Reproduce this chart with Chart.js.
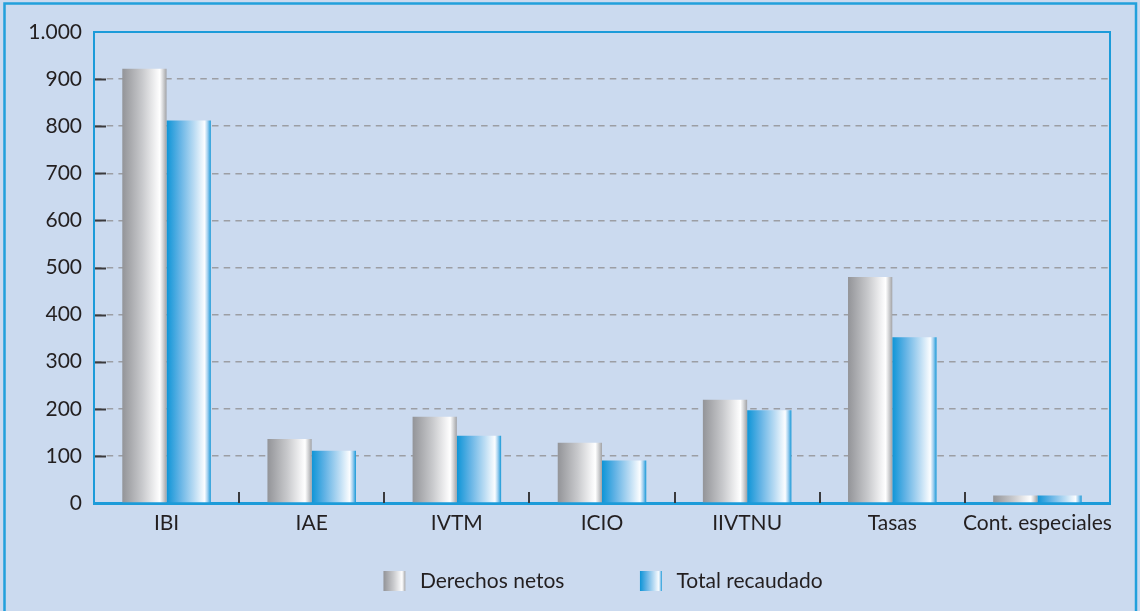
<!DOCTYPE html>
<html><head><meta charset="utf-8">
<script src="https://cdn.jsdelivr.net/npm/chart.js@4.4.1/dist/chart.umd.min.js"></script>
<style>html,body{margin:0;padding:0;background:#cbdaef;overflow:hidden}canvas{display:block}</style>
</head><body>
<canvas id="c" width="1140" height="611" style="width:1140px;height:611px"></canvas>
<script>
const categories = ['IBI', 'IAE', 'IVTM', 'ICIO', 'IIVTNU', 'Tasas', 'Cont. especiales'];
const derechosNetos = [922, 136, 183, 128, 219, 480, 16];
const totalRecaudado = [812, 111, 143, 90, 197, 352, 16];
const seriesNames = ['Derechos netos', 'Total recaudado'];
const yTickValues = [0, 100, 200, 300, 400, 500, 600, 700, 800, 900, 1000];
const yTickLabels = ['0', '100', '200', '300', '400', '500', '600', '700', '800', '900', '1.000'];

const BG = '#cbdaef';
const FRAME = '#22a0dc';
const AXIS = '#1c9bd9';
const TXT = '#231f20';
const FONT = 'Lato, "DejaVu Sans", sans-serif';

function grayStops(g) {
  g.addColorStop(0, '#939498');
  g.addColorStop(0.45, '#c8c9cc');
  g.addColorStop(0.78, '#f6f6f7');
  g.addColorStop(0.85, '#ffffff');
  g.addColorStop(0.92, '#d4d5d7');
  g.addColorStop(1, '#a2a3a6');
  return g;
}
function blueStops(g) {
  g.addColorStop(0, '#0e95d7');
  g.addColorStop(0.3, '#63b3e5');
  g.addColorStop(0.62, '#b9dbf3');
  g.addColorStop(0.86, '#fbfdff');
  g.addColorStop(0.93, '#9ccdee');
  g.addColorStop(1, '#1799d8');
  return g;
}
const stopFns = [grayStops, blueStops];

const SW_W = 98, SW_X = 72, SW_BOX = 22, SW_H = 20;
function swatch(i) {
  const cv = document.createElement('canvas');
  cv.width = SW_W; cv.height = SW_H;
  const c = cv.getContext('2d');
  c.fillStyle = stopFns[i](c.createLinearGradient(SW_X, 0, SW_X + SW_BOX, 0));
  c.fillRect(SW_X, 0, SW_BOX, SW_H);
  return cv;
}
const swatches = [swatch(0), swatch(1)];

const decor = {
  id: 'decor',
  beforeDraw(chart) {
    const c = chart.ctx;
    c.save();
    c.fillStyle = BG;
    c.fillRect(0, 0, chart.width, chart.height);
    c.strokeStyle = FRAME;
    c.lineWidth = 2.5;
    c.strokeRect(4.5, 3.5, 1131.5, 640);
    c.restore();
  },
  beforeDatasetsDraw(chart) {
    const c = chart.ctx;
    chart.data.datasets.forEach((ds, di) => {
      const meta = chart.getDatasetMeta(di);
      meta.data.forEach(el => {
        const x0 = el.x - el.width / 2, x1 = el.x + el.width / 2;
        const g = stopFns[di](c.createLinearGradient(x0, 0, x1, 0));
        el.options = Object.assign({}, el.options, { backgroundColor: g });
      });
    });
  },
  afterDraw(chart) {
    const c = chart.ctx, a = chart.chartArea;
    const ys = chart.scales.y, xs = chart.scales.x;
    c.save();
    c.strokeStyle = AXIS;
    c.lineWidth = 2;
    c.beginPath();
    c.moveTo(a.left, a.top); c.lineTo(a.right, a.top); c.lineTo(a.right, a.bottom);
    c.stroke();
    c.strokeStyle = '#3a3a3d';
    c.lineWidth = 2;
    ys.ticks.forEach(t => {
      if (t.value <= 0 || t.value >= 1000) return;
      const y = Math.round(ys.getPixelForValue(t.value)) + 0.5;
      c.beginPath(); c.moveTo(a.left + 1, y); c.lineTo(a.left + 12, y); c.stroke();
    });
    for (let i = 1; i < categories.length; i++) {
      const x = Math.round((xs.getPixelForValue(i - 1) + xs.getPixelForValue(i)) / 2);
      c.beginPath(); c.moveTo(x, a.bottom - 11); c.lineTo(x, a.bottom); c.stroke();
    }
    c.restore();
  }
};

new Chart(document.getElementById('c'), {
  type: 'bar',
  data: {
    labels: categories,
    datasets: [
      { label: seriesNames[0], data: derechosNetos, backgroundColor: '#c8c9cc', borderWidth: 0 },
      { label: seriesNames[1], data: totalRecaudado, backgroundColor: '#63b3e5', borderWidth: 0 }
    ]
  },
  options: {
    responsive: false,
    animation: false,
    devicePixelRatio: 1,
    datasets: { bar: { categoryPercentage: 0.61, barPercentage: 1.0 } },
    layout: { padding: { left: 24, right: 30, top: 32, bottom: 9.5 } },
    scales: {
      x: {
        afterFit(s) { s.height = 64; },
        grid: { display: false, drawTicks: false },
        border: { display: true, color: AXIS, width: 3 },
        ticks: { color: TXT, font: { family: FONT, size: 21 }, padding: 8, maxRotation: 0, autoSkip: false }
      },
      y: {
        min: 0, max: 1000,
        afterFit(s) { s.width = 70; },
        afterBuildTicks(s) { s.ticks = yTickValues.map(v => ({ value: v })); },
        grid: { color: '#9c9ea4', lineWidth: 1.5, drawTicks: false },
        border: { display: true, color: AXIS, width: 2, dash: [6.5, 5.2] },
        ticks: {
          color: TXT, font: { family: FONT, size: 21 }, padding: 12,
          callback(v) { const i = yTickValues.indexOf(v); return i >= 0 ? yTickLabels[i] : ''; }
        }
      }
    },
    plugins: {
      tooltip: { enabled: false },
      legend: {
        position: 'bottom',
        labels: {
          color: TXT,
          font: { family: FONT, size: 21 },
          usePointStyle: true,
          pointStyleWidth: SW_W,
          padding: 3.5,
          generateLabels(chart) {
            const items = Chart.defaults.plugins.legend.labels.generateLabels(chart);
            items.forEach((it, i) => { it.pointStyle = swatches[i]; });
            return items;
          }
        }
      }
    }
  },
  plugins: [decor]
});
</script>
</body></html>
